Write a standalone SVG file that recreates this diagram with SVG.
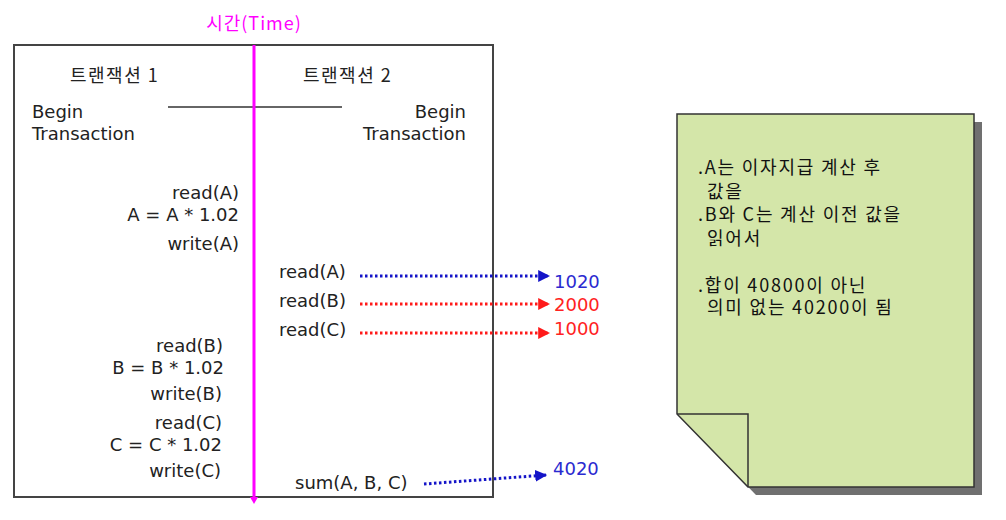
<svg xmlns="http://www.w3.org/2000/svg" width="1006" height="520" viewBox="0 0 1006 520">
<defs>
<style>
text{font-family:"DejaVu Sans","Noto Sans CJK KR",sans-serif;font-size:18px;fill:#222}
.k{font-family:"Noto Sans CJK KR","DejaVu Sans",sans-serif;letter-spacing:1.5px}
.e{text-anchor:end}
.blue{fill:#2a2ad0}
.red{fill:#ff2222}
.dotb{stroke:#1414c8;stroke-width:3;stroke-dasharray:2.5 2.5;fill:none}
.dotr{stroke:#ff1a1a;stroke-width:3;stroke-dasharray:2.5 2.5;fill:none}
.note{font-family:"Noto Sans CJK KR","DejaVu Sans",sans-serif;font-size:18px;letter-spacing:1.8px;fill:#111}
</style>
<marker id="ab" viewBox="0 0 10 10" refX="9" refY="5" markerWidth="4" markerHeight="4" orient="auto" markerUnits="strokeWidth"><path d="M0,0 L10,5 L0,10 z" fill="#1414c8"/></marker>
<marker id="ar" viewBox="0 0 10 10" refX="9" refY="5" markerWidth="4" markerHeight="4" orient="auto" markerUnits="strokeWidth"><path d="M0,0 L10,5 L0,10 z" fill="#ff1a1a"/></marker>
</defs>
<rect width="1006" height="520" fill="#fff"/>

<g id="timeline">
<rect x="14" y="45" width="479" height="452" fill="none" stroke="#444" stroke-width="2"/>
<line x1="168" y1="107" x2="342" y2="107" stroke="#666" stroke-width="2"/>
<line x1="254" y1="45" x2="254" y2="498" stroke="#ff00ff" stroke-width="3"/>
<path d="M250,497 L258,497 L254,504 z" fill="#ff00ff"/>
<text x="254" y="30" text-anchor="middle" class="k" style="fill:#ff00ff;letter-spacing:1px">시간(Time)</text>
</g>

<g id="tx1">
<text x="70" y="82" class="k">트랜잭션 1</text>
<text x="32" y="118">Begin</text>
<text x="32" y="140">Transaction</text>
<text x="239" y="199" class="e">read(A)</text>
<text x="239" y="221" class="e">A = A * 1.02</text>
<text x="239" y="250" class="e">write(A)</text>
<text x="223" y="352" class="e">read(B)</text>
<text x="224" y="374" class="e">B = B * 1.02</text>
<text x="222" y="400" class="e">write(B)</text>
<text x="222" y="429" class="e">read(C)</text>
<text x="222" y="451" class="e">C = C * 1.02</text>
<text x="221" y="477" class="e">write(C)</text>
</g>

<g id="tx2">
<text x="303" y="82" class="k">트랜잭션 2</text>
<text x="466" y="118" class="e">Begin</text>
<text x="466" y="140" class="e">Transaction</text>
<text x="279" y="278">read(A)</text>
<text x="279" y="307">read(B)</text>
<text x="279" y="336">read(C)</text>
<text x="295" y="489">sum(A, B, C)</text>
</g>

<g id="values">
<text x="554" y="288" class="blue">1020</text>
<text x="554" y="311" class="red">2000</text>
<text x="554" y="335" class="red">1000</text>
<text x="553" y="475" class="blue">4020</text>
</g>

<g id="connectors">
<line x1="360" y1="276" x2="549" y2="276" class="dotb" marker-end="url(#ab)"/>
<line x1="360" y1="304" x2="549" y2="304" class="dotr" marker-end="url(#ar)"/>
<line x1="360" y1="333" x2="549" y2="333" class="dotr" marker-end="url(#ar)"/>
<line x1="424" y1="484" x2="546" y2="475" class="dotb" marker-end="url(#ab)"/>
</g>

<g id="note">
<path d="M685,122 L982,122 L982,495 L756,495 L685,422 z" fill="#707070"/>
<path d="M677,114 L974,114 L974,487 L748,487 L677,414 z" fill="#d4e6a9" stroke="#333" stroke-width="1.5"/>
<path d="M677,414 L748,414 L748,487" fill="none" stroke="#333" stroke-width="1.5"/>
<text class="note" x="698" y="174">.A는 이자지급 계산 후</text>
<text class="note" x="707" y="198">값을</text>
<text class="note" x="698" y="221">.B와 C는 계산 이전 값을</text>
<text class="note" x="707" y="245">읽어서</text>
<text class="note" x="698" y="292">.합이 40800이 아닌</text>
<text class="note" x="707" y="314">의미 없는 40200이 됨</text>
</g>
</svg>
